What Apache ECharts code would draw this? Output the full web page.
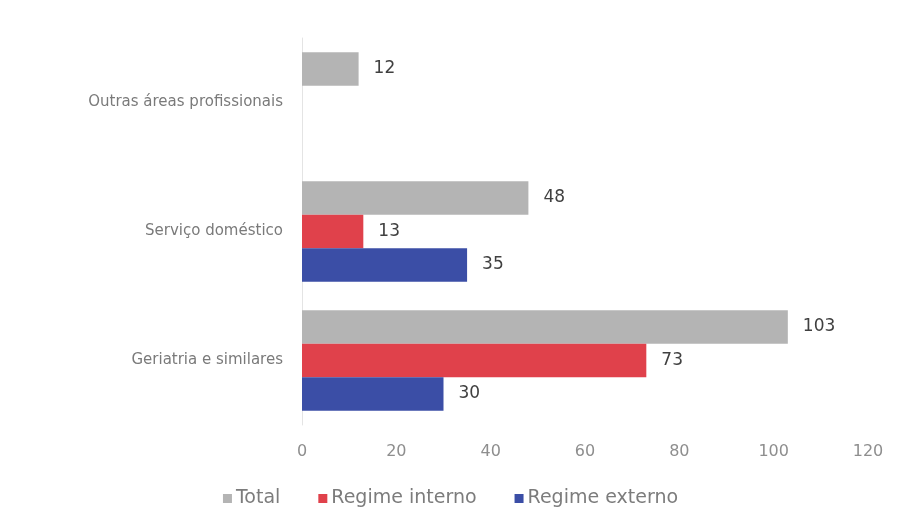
<!DOCTYPE html>
<html>
<head>
<meta charset="utf-8">
<script src="https://cdn.jsdelivr.net/npm/echarts@6/dist/echarts.min.js"></script>
<style>
  html, body { margin: 0; padding: 0; background: #ffffff; }
  #chart { width: 901px; height: 529px; }
</style>
</head>
<body>
<div id="chart"></div>
<script>
// Categories, bottom to top
const categories = ['Geriatria e similares', 'Serviço doméstico', 'Outras áreas profissionais'];
const seriesNames = ['Total', 'Regime interno', 'Regime externo'];
const totalValues = [103, 48, 12];
const internoValues = [73, 13, null];
const externoValues = [30, 35, null];
const xTicks = [0, 20, 40, 60, 80, 100, 120];

const FONT = 'DejaVu Sans';
const colors = ['#b4b4b4', '#e0414b', '#3b4ea6'];

const valueLabel = {
  show: true,
  position: 'right',
  distance: 15,
  color: '#404040',
  fontFamily: FONT,
  fontSize: 17
};

function makeSeries(name, data, color) {
  return {
    name: name,
    type: 'bar',
    data: data,
    barGap: '0%',
    barCategoryGap: '22%',
    itemStyle: { color: color },
    label: valueLabel
  };
}

const chart = echarts.init(document.getElementById('chart'), null, { renderer: 'canvas' });
chart.setOption({
  animation: false,
  backgroundColor: '#ffffff',
  grid: { left: 302, right: 33, top: 38, bottom: 104, containLabel: false },
  legend: {
    top: 484,
    left: 'center',
    itemWidth: 9,
    itemHeight: 9,
    itemGap: 38,
    icon: 'rect',
    data: seriesNames,
    textStyle: { color: '#7c7c7c', fontFamily: FONT, fontSize: 19, padding: [0, 0, 0, -1] }
  },
  xAxis: {
    type: 'value',
    min: xTicks[0],
    max: xTicks[xTicks.length - 1],
    interval: xTicks[1] - xTicks[0],
    axisLine: { show: false },
    axisTick: { show: false },
    splitLine: { show: false },
    axisLabel: { color: '#8e8e8e', fontFamily: FONT, fontSize: 16, margin: 19 }
  },
  yAxis: {
    type: 'category',
    data: categories,
    axisLine: { show: true, lineStyle: { color: '#e4e4e4', width: 1 } },
    axisTick: { show: false },
    axisLabel: { color: '#7a7a7a', fontFamily: FONT, fontSize: 15, margin: 19 }
  },
  series: [
    makeSeries(seriesNames[0], totalValues, colors[0]),
    makeSeries(seriesNames[1], internoValues, colors[1]),
    makeSeries(seriesNames[2], externoValues, colors[2])
  ]
});
</script>
</body>
</html>
